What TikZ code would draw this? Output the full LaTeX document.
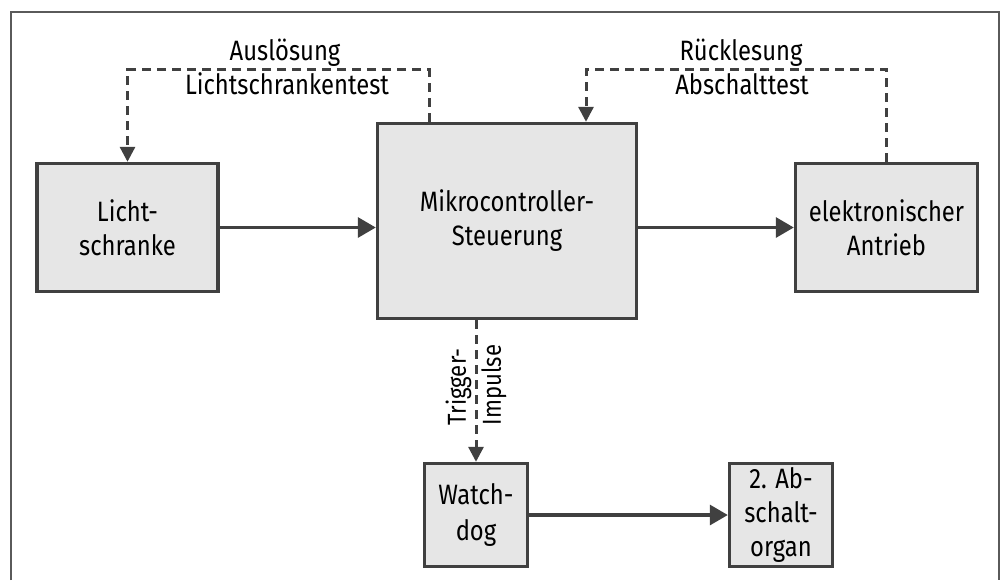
\documentclass[tikz,border=0pt]{standalone}
\usepackage{fontspec}
\setmainfont{Fira Sans}[FakeStretch=0.85]
\usetikzlibrary{arrows.meta}
\definecolor{boxgray}{HTML}{E6E6E6}
\definecolor{linegray}{HTML}{404040}
\definecolor{framegray}{HTML}{5A5A5A}

\begin{document}
\begin{tikzpicture}[x=0.5pt, y=-0.5pt,
        block/.style={rectangle, draw=linegray, line width=1.7pt, fill=boxgray, align=center, inner sep=0pt},
        flow/.style={draw=linegray, line width=1.6pt, -{Triangle[length=9pt, width=10pt]}},
        test/.style={draw=linegray, line width=1.5pt, dash pattern=on 4.5pt off 3pt, -{Triangle[length=7.5pt, width=7.5pt]}},
        font=\fontsize{14}{17}\selectfont]
        \useasboundingbox (0, 0) rectangle (1001, 580);
        \draw[framegray, line width=1.1pt] (11, 580) -- (11, 12) -- (999, 12) -- (999, 580);
        \node[block, minimum width=90.5pt, minimum height=64pt] (licht) at (127.5, 227.5) {Licht-\\schranke};
        \node[block, minimum width=129.5pt, minimum height=97.5pt] (mikro) at (507, 221) {Mikrocontroller-\\Steuerung};
        \node[block, minimum width=91pt, minimum height=64pt] (antrieb) at (886.5, 227.5) {elektronischer\\Antrieb};
        \node[block, minimum width=51.5pt, minimum height=51.5pt, font=\fontsize{14}{18}\selectfont] (watchdog) at (476, 515) {Watch-\\dog};
        \node[block, minimum width=51.5pt, minimum height=51.5pt] (organ) at (781, 515) {2. Ab-\\schalt-\\organ};
        \node[anchor=base] (ausloesung) at (285, 60) {Auslösung};
        \node[anchor=base] (lstest) at (287, 94) {Lichtschrankentest};
        \node[anchor=base] (ruecklesung) at (741, 60) {Rücklesung};
        \node[anchor=base] (abtest) at (742, 94) {Abschalttest};
        \node[rotate=90, align=left, inner sep=0pt, font=\fontsize{13}{17.5}\selectfont] (trigger) at (476, 385) {Trigger-\\Impulse};
        \draw[flow] (licht.east) -- (mikro.west |- licht.east);
        \draw[flow] (mikro.east |- antrieb.west) -- (antrieb.west);
        \draw[flow] (watchdog) -- (organ);
        \draw[test] ([xshift=-39pt]mikro.north) -- ++(0, -52) -| (licht.north);
        \draw[test] (antrieb.north) -- ++(0, -92) -| ([xshift=39.5pt]mikro.north);
        \draw[test] (mikro.south -| watchdog.north) -- (watchdog.north);
    \end{tikzpicture}
\end{document}
